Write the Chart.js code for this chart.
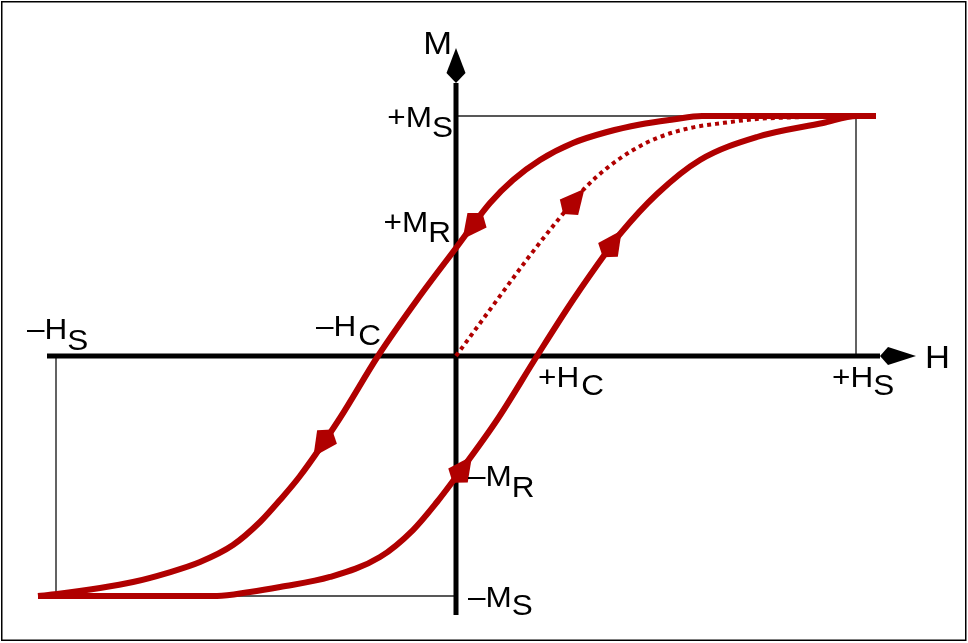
<!DOCTYPE html>
<html>
<head>
<meta charset="utf-8">
<script src="https://cdn.jsdelivr.net/npm/chart.js@4.4.1/dist/chart.umd.min.js"></script>
<style>
    html, body { margin: 0; padding: 0; background: #fff; }
    #wrap { width: 968px; height: 643px; }
</style>
</head>
<body>
<div id="wrap"><canvas id="hysteresisChart" width="968" height="643"></canvas></div>
<script>
// H in units of Hs, M in units of Ms

// descending branch (travelled from +Hs to -Hs), listed by increasing H
const descH = [-1.045, -0.9975, -0.89, -0.8075, -0.7225, -0.64, -0.5575, -0.49, -0.44, -0.39, -0.29, -0.195, -0.0975, 0, 0.085, 0.1425, 0.21, 0.2925, 0.3775, 0.46, 0.5425, 0.615, 1.05];
const descM = [-1, -0.9917, -0.9667, -0.9417, -0.9042, -0.8583, -0.7875, -0.6917, -0.6, -0.5, -0.2583, 0, 0.2333, 0.45, 0.6375, 0.7333, 0.8167, 0.8875, 0.9333, 0.9646, 0.9854, 1, 1];

// ascending branch (travelled from -Hs to +Hs)
const ascH = [-1.045, -0.5975, -0.515, -0.44, -0.315, -0.19, -0.1075, -0.0475, 0, 0.1025, 0.2025, 0.2925, 0.38, 0.41, 0.5025, 0.61, 0.7525, 0.9175, 1.0025, 1.05];
const ascM = [-1, -1, -0.9833, -0.9625, -0.9208, -0.8375, -0.725, -0.6083, -0.5042, -0.2667, 0, 0.2333, 0.4417, 0.5083, 0.675, 0.8167, 0.9125, 0.9708, 1, 1];

// initial magnetisation curve (dotted)
const initH = [0, 0.1025, 0.18, 0.255, 0.3225, 0.3775, 0.4425, 0.5025, 0.585, 0.6675, 0.7525, 0.8775, 1.0];
const initM = [0, 0.233, 0.408, 0.567, 0.7, 0.783, 0.858, 0.908, 0.95, 0.971, 0.9875, 0.996, 1];

// direction markers on the curves
const markerCurve = ['desc', 'desc', 'asc', 'asc', 'init'];
const markerH = [0.0525, -0.3225, 0.005, 0.38, 0.2825];
const markerM = [0.566, -0.3375, -0.498, 0.4417, 0.62];
const markerDir = [-1, -1, 1, 1, 1];

// axis extents
const hAxisH = [-1.0225, 1.06];
const mAxisM = [-1.079, 1.1375];
const hArrowAt = 1.08;
const mArrowAt = 1.179;

// labels: text, subscript, anchor H, anchor M
const labelMain = ['+M', '+M', '\u2013H', '\u2013H', '+H', '+H', '\u2013M', '\u2013M'];
const labelSub = ['S', 'R', 'S', 'C', 'C', 'S', 'R', 'S'];
const labelH = [0, 0, -1, -0.195, 0.2025, 1, 0, 0];
const labelM = [1, 0.45, 0, 0, 0, 0, -0.496, -1];

const RED = '#b00000';
const H_MIN = -1.14, H_MAX = 1.28;
const M_MIN = -1.1958, M_MAX = 1.4833;

// pixel placement of each label relative to its anchor
const labelLayout = [
    { dx: -3, dy: 11, sub: 10, align: 'right' },
    { dx: -5, dy: -16, sub: 10, align: 'right' },
    { dx: -29, dy: -17, sub: 11, align: 'left' },
    { dx: -62, dy: -20, sub: 9, align: 'left', gap: 2 },
    { dx: 1, dy: 31, sub: 8, align: 'left', gap: 2 },
    { dx: -24, dy: 31, sub: 8, align: 'left' },
    { dx: 12, dy: 11, sub: 11, align: 'left' },
    { dx: 12, dy: 11, sub: 8, align: 'left' }
];

const toPts = (hs, ms) => hs.map((h, i) => ({ x: h, y: ms[i] }));
const FONT = '"Liberation Sans", Arial, Helvetica, sans-serif';

function kite(c, x, y, angle, tip, back, half) {
    c.save();
    c.translate(x, y);
    c.rotate(angle);
    c.beginPath();
    c.moveTo(tip, 0);
    c.lineTo(0, half);
    c.lineTo(-back, 0);
    c.lineTo(0, -half);
    c.closePath();
    c.fill();
    c.restore();
}

function drawLabel(c, x, y, main, sub, align, size, sx, subDy, gap) {
    c.save();
    c.font = size + 'px ' + FONT;
    c.textBaseline = 'alphabetic';
    c.textAlign = 'left';
    c.fillStyle = '#000';
    const wm = c.measureText(main).width;
    const ws = sub ? c.measureText(sub).width : 0;
    const total = (wm + ws) * sx + (gap || 0);
    const start = align === 'right' ? x - total : x;
    c.translate(start, y);
    c.scale(sx, 1);
    c.fillText(main, 0, 0);
    if (sub) c.fillText(sub, wm + (gap || 0) / sx, subDy);
    c.restore();
}

const curveIndex = { desc: 0, asc: 1, init: 2 };

const decorations = {
    id: 'decorations',
    beforeDraw(chart) {
        const c = chart.ctx;
        c.save();
        c.fillStyle = '#fff';
        c.fillRect(0, 0, chart.width, chart.height);
        c.strokeStyle = '#000';
        c.lineWidth = 1.5;
        c.strokeRect(1.75, 1.75, 964, 638.5);
        c.restore();
    },
    afterDatasetsDraw(chart) {
        const c = chart.ctx;
        const xs = chart.scales.x, ys = chart.scales.y;
        const px = v => xs.getPixelForValue(v);
        const py = v => ys.getPixelForValue(v);

        // axis arrowheads
        c.save();
        c.fillStyle = '#000';
        kite(c, px(hArrowAt), py(0), 0, 28, 8, 9);
        kite(c, px(0), py(mArrowAt), -Math.PI / 2, 25, 10, 9.5);
        c.restore();

        // direction markers
        c.save();
        c.fillStyle = RED;
        markerCurve.forEach((name, i) => {
            const ds = chart.data.datasets[curveIndex[name]].data;
            let k = 0;
            while (k < ds.length - 2 && ds[k + 1].x < markerH[i]) k++;
            const a = ds[k], b = ds[k + 1];
            let ang = Math.atan2(py(b.y) - py(a.y), px(b.x) - px(a.x));
            if (markerDir[i] < 0) ang += Math.PI;
            kite(c, px(markerH[i]), py(markerM[i]), ang, 24, 9, 12);
        });
        c.restore();

        // axis titles
        drawLabel(c, px(0) - 4, py(mArrowAt) - 19, 'M', '', 'right', 32, 1.08, 0);
        drawLabel(c, px(hArrowAt) + 37, py(0) + 12, 'H', '', 'left', 32, 1.08, 0);

        // point labels
        labelMain.forEach((t, i) => {
            const L = labelLayout[i];
            drawLabel(c, px(labelH[i]) + L.dx, py(labelM[i]) + L.dy, t, labelSub[i], L.align, 30, 1.05, L.sub, L.gap);
        });
    }
};

const ctx = document.getElementById('hysteresisChart').getContext('2d');

new Chart(ctx, {
    type: 'scatter',
    data: {
        datasets: [
            {
                label: 'descending',
                data: toPts(descH, descM),
                showLine: true,
                borderColor: RED,
                borderWidth: 6,
                borderJoinStyle: 'round',
                pointRadius: 0,
                cubicInterpolationMode: 'monotone',
                order: 0
            },
            {
                label: 'ascending',
                data: toPts(ascH, ascM),
                showLine: true,
                borderColor: RED,
                borderWidth: 6,
                borderJoinStyle: 'round',
                pointRadius: 0,
                cubicInterpolationMode: 'monotone',
                order: 0
            },
            {
                label: 'initial',
                data: toPts(initH, initM),
                showLine: true,
                borderColor: RED,
                borderWidth: 4,
                borderDash: [4, 4],
                pointRadius: 0,
                cubicInterpolationMode: 'monotone',
                order: 1
            },
            {
                label: 'H axis',
                data: toPts(hAxisH, [0, 0]),
                showLine: true,
                borderColor: '#000',
                borderWidth: 5,
                pointRadius: 0,
                order: 5
            },
            {
                label: 'M axis',
                data: toPts([0, 0], mAxisM),
                showLine: true,
                borderColor: '#000',
                borderWidth: 5,
                pointRadius: 0,
                order: 5
            },
            {
                label: 'guide +',
                data: toPts([0, 1, 1], [1, 1, 0]),
                showLine: true,
                borderColor: '#222',
                borderWidth: 1.4,
                pointRadius: 0,
                order: 8
            },
            {
                label: 'guide -',
                data: toPts([0, -1, -1], [-1, -1, 0]),
                showLine: true,
                borderColor: '#222',
                borderWidth: 1.4,
                pointRadius: 0,
                order: 8
            }
        ]
    },
    options: {
        responsive: false,
        animation: false,
        events: [],
        layout: { padding: 0 },
        plugins: {
            legend: { display: false },
            tooltip: { enabled: false }
        },
        scales: {
            x: { type: 'linear', display: false, min: H_MIN, max: H_MAX },
            y: { type: 'linear', display: false, min: M_MIN, max: M_MAX }
        }
    },
    plugins: [decorations]
});
</script>
</body>
</html>
